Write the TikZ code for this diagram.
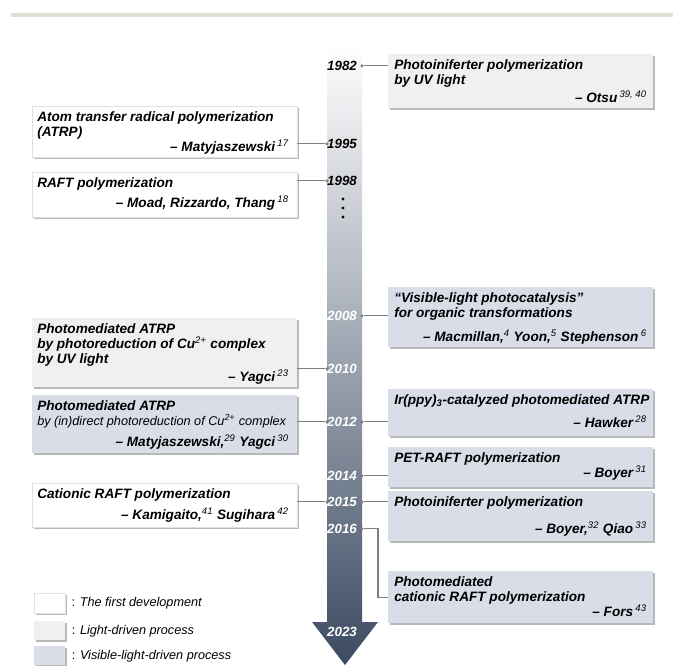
\documentclass[tikz,border=0pt]{standalone}
\usepackage{fontspec}
\setmainfont{Liberation Sans}
\usetikzlibrary{shadows}
\definecolor{gray1}{RGB}{240,240,240}
\definecolor{gray2}{RGB}{128,128,128}
\definecolor{blue1}{RGB}{216,221,231}
\definecolor{slate1}{RGB}{60,75,98}
\definecolor{beige1}{RGB}{224,221,210}
\newcommand{\refno}[1]{\textsuperscript{\mdseries#1}}

\tikzset{
evbox/.style={anchor=north west, minimum width=198.5pt, inner sep=0pt,
  drop shadow={shadow xshift=1.3pt, shadow yshift=-1.3pt, fill=black!55, opacity=0.5}},
firstbox/.style={evbox, fill=white, draw=black!12, line width=0.3pt},
lightbox/.style={evbox, fill=gray1},
visbox/.style={evbox, fill=blue1},
title/.style={anchor=north west, inner sep=0pt, align=left,
  font=\fontsize{10.2}{11.25}\selectfont\bfseries\itshape},
author/.style={anchor=base east, inner sep=0pt,
  font=\fontsize{10.2}{11.25}\selectfont\bfseries\itshape},
year/.style={anchor=mid, inner sep=0pt, font=\fontsize{10}{11}\selectfont\bfseries\itshape},
dot/.style={circle, fill=gray2, inner sep=0pt, minimum size=2.6pt},
link/.style={draw=gray2, line width=0.8pt},
legend/.style={anchor=west, inner sep=0pt, font=\fontsize{9.5}{11}\selectfont}
}

\begin{document}
\begin{tikzpicture}[x=0.75pt, y=-0.75pt]
\useasboundingbox (0,0) rectangle (673,665);
\fill[beige1] (11,13) rectangle (673,17);

% time axis
\shade[top color=white, bottom color=slate1] (327,45) -- (362,45) -- (362,622) -- (378,622)
  -- (345,665) -- (312,622) -- (327,622) -- cycle;
\foreach \yy in {199,208,217}
{
\fill (343,\yy) circle (1.6);
}

% year labels
\foreach \yr/\yy in {1982/67, 1995/145, 1998/182}
{
\node[year] (y\yr) at (342,\yy) {\yr};
}
\foreach \yr/\yy in {2008/317, 2010/370, 2012/423, 2014/477, 2015/503, 2016/530, 2023/633}
{
\node[year, text=white] (y\yr) at (342,\yy) {\yr};
}
\foreach \yr in {1995, 1998, 2010, 2012, 2015}
{
\node[dot] (dl\yr) at (327,0 |- y\yr) {};
}
\foreach \yr in {1982, 2008, 2012, 2014, 2015, 2016}
{
\node[dot] (dr\yr) at (362,0 |- y\yr) {};
}

% left column
\node[firstbox, minimum height=38.25pt] (atrp) at (32,106) {};
\node[title] (atrptx) at (37,111) {Atom transfer radical polymerization\\(ATRP)};
\node[author] (atrpby) at (289,151) {-- Matyjaszewski\,\refno{17}};

\node[firstbox, minimum height=33.75pt] (raft) at (32,172) {};
\node[title] (rafttx) at (37,177) {RAFT polymerization};
\node[author] (raftby) at (289,207) {-- Moad, Rizzardo, Thang\,\refno{18}};

\node[lightbox, minimum height=51.75pt] (uvatrp) at (32,318) {};
\node[title] (uvatrptx) at (37,323) {Photomediated ATRP\\by photoreduction of Cu\refno{2+} complex\\by UV light};
\node[author] (uvatrpby) at (289,381) {-- Yagci\,\refno{23}};

\node[visbox, minimum height=43.5pt] (visatrp) at (32,395) {};
\node[title] (visatrptx) at (37,400) {Photomediated ATRP\\{\fontsize{9.5}{11.25}\selectfont\mdseries by (in)direct photoreduction of Cu\textsuperscript{2+} complex}};
\node[author] (visatrpby) at (289,446) {-- Matyjaszewski,\refno{29} Yagci\,\refno{30}};

\node[firstbox, minimum height=33pt] (catraft) at (32,483) {};
\node[title] (catrafttx) at (37,488) {Cationic RAFT polymerization};
\node[author] (catraftby) at (289,519) {-- Kamigaito,\refno{41} Sugihara\,\refno{42}};

% right column
\node[lightbox, minimum height=40.5pt] (otsu) at (388,54) {};
\node[title] (otsutx) at (394,59) {Photoiniferter polymerization\\by UV light};
\node[author] (otsuby) at (647,102) {-- Otsu\,\refno{39, 40}};

\node[visbox, minimum height=45pt] (photocat) at (388,287) {};
\node[title] (photocattx) at (394,292) {``Visible-light photocatalysis''\\for organic transformations};
\node[author] (photocatby) at (647,341) {-- Macmillan,\refno{4} Yoon,\refno{5} Stephenson\,\refno{6}};

\node[visbox, minimum height=35.25pt] (iratrp) at (388,389) {};
\node[title] (iratrptx) at (394,394) {Ir(ppy)\textsubscript{3}-catalyzed photomediated ATRP};
\node[author] (iratrpby) at (647,427) {-- Hawker\,\refno{28}};

\node[visbox, minimum height=30pt] (petraft) at (388,447) {};
\node[title] (petrafttx) at (394,452) {PET-RAFT polymerization};
\node[author] (petraftby) at (647,477) {-- Boyer\,\refno{31}};

\node[visbox, minimum height=37.5pt] (iniferter) at (388,491) {};
\node[title] (inifertertx) at (394,496) {Photoiniferter polymerization};
\node[author] (iniferterby) at (647,533) {-- Boyer,\refno{32} Qiao\,\refno{33}};

\node[visbox, minimum height=39pt] (pcat) at (388,571) {};
\node[title] (pcattx) at (394,576) {Photomediated\\cationic RAFT polymerization};
\node[author] (pcatby) at (647,616) {-- Fors\,\refno{43}};

% connectors
\draw[link] (atrp.east |- dl1995) -- (dl1995);
\draw[link] (raft.east |- dl1998) -- (dl1998);
\draw[link] (uvatrp.east |- dl2010) -- (dl2010);
\draw[link] (visatrp.east |- dl2012) -- (dl2012);
\draw[link] (catraft.east |- dl2015) -- (dl2015);
\draw[link] (dr1982) -- (otsu.west |- dr1982);
\draw[link] (dr2008) -- (photocat.west |- dr2008);
\draw[link] (dr2012) -- (iratrp.west |- dr2012);
\draw[link] (dr2014) -- (petraft.west |- dr2014);
\draw[link] (dr2015) -- (iniferter.west |- dr2015);
\draw[link] (dr2016) -- ++(16,0) |- (pcat.west);

% legend
\node[firstbox, minimum width=23.25pt, minimum height=15pt] (lg1) at (34,593) {};
\node[lightbox, minimum width=23.25pt, minimum height=14.25pt] (lg2) at (34,621) {};
\node[visbox, minimum width=23.25pt, minimum height=14.25pt] (lg3) at (34,646) {};
\node[legend] (lg1tx) at ([xshift=4.5pt]lg1.east) {: \textit{The first development}};
\node[legend] (lg2tx) at ([xshift=4.5pt]lg2.east) {: \textit{Light-driven process}};
\node[legend] (lg3tx) at ([xshift=4.5pt]lg3.east) {: \textit{Visible-light-driven process}};
\end{tikzpicture}
\end{document}
